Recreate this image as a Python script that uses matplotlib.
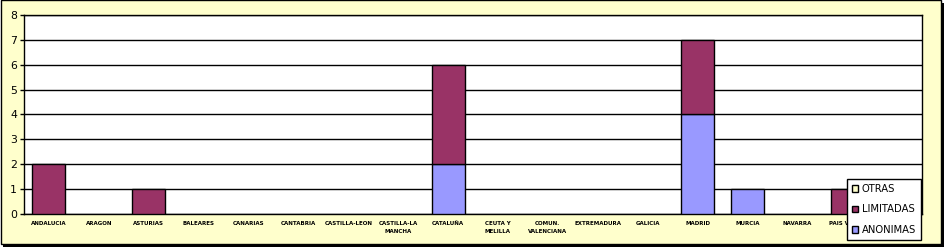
import numpy as np
import matplotlib
matplotlib.use("Agg")
import matplotlib.pyplot as plt
from matplotlib.patches import Rectangle

regions = ["ANDALUCIA", "ARAGON", "ASTURIAS", "BALEARES", "CANARIAS", "CANTABRIA",
           "CASTILLA-LEON", "CASTILLA-LA\nMANCHA", "CATALUÑA", "CEUTA Y\nMELILLA",
           "COMUN.\nVALENCIANA", "EXTREMADURA", "GALICIA", "MADRID", "MURCIA",
           "NAVARRA", "PAIS VASCO", "RIOJA"]
anonimas = [0, 0, 0, 0, 0, 0, 0, 0, 2, 0, 0, 0, 0, 4, 1, 0, 0, 0]
limitadas = [2, 0, 1, 0, 0, 0, 0, 0, 4, 0, 0, 0, 0, 3, 0, 0, 1, 0]
otras = [0] * len(regions)

bg = '#FFFFCC'
fig = plt.figure(figsize=(9.44, 2.47), dpi=100)
fig.patch.set_facecolor('white')

# frame with drop shadow
W, H = 944, 247
fig.patches.append(Rectangle((3 / W, 0), 941 / W, 244 / H, transform=fig.transFigure,
                             facecolor='black', edgecolor='none', zorder=-2))
fig.patches.append(Rectangle((0.5 / W, 3.5 / H), 940 / W, 243 / H, transform=fig.transFigure,
                             facecolor=bg, edgecolor='black', linewidth=1, zorder=-1))

ax = fig.add_axes([24 / W, 1 - 214 / H, (922 - 24) / W, (214 - 15) / H])
ax.set_facecolor('white')

x = np.arange(len(regions))
width = 0.66
an = np.array(anonimas)
li = np.array(limitadas)
ot = np.array(otras)
b1 = ax.bar(x, an, width, color='#9999FF', edgecolor='black', linewidth=1, zorder=3, label='ANONIMAS')
b2 = ax.bar(x, li, width, bottom=an, color='#993366', edgecolor='black', linewidth=1, zorder=3, label='LIMITADAS')
b3 = ax.bar(x, ot, width, bottom=an + li, color=bg, edgecolor='black', linewidth=1, zorder=3, label='OTRAS')
# hide zero-height bars
for bars, vals in ((b1, an), (b2, li), (b3, ot)):
    for rect, v in zip(bars, vals):
        if v == 0:
            rect.set_visible(False)

ax.set_xlim(-0.5, len(regions) - 0.5)
ax.set_ylim(0, 8)
ax.set_yticks(range(0, 9))
ax.grid(True, axis='y', color='black', linewidth=1, zorder=1)
ax.set_axisbelow(True)
for s in ax.spines.values():
    s.set_linewidth(1)
ax.tick_params(axis='y', labelsize=7.8, length=3, width=1, pad=2)
ax.set_xticks(x)
ax.set_xticklabels(regions, fontsize=4.0, fontweight='bold', linespacing=1.7)
ax.tick_params(axis='x', length=0, pad=5)

handles = [b3, b2, b1]
leg = fig.legend(handles, ['OTRAS', 'LIMITADAS', 'ANONIMAS'], loc='lower left',
                 bbox_to_anchor=(847 / W, 1 - 240 / H), fontsize=7.2,
                 frameon=True, fancybox=False, edgecolor='black', framealpha=1,
                 handlelength=0.6, handleheight=0.6, handletextpad=0.4,
                 labelspacing=1.05, borderpad=0.5, borderaxespad=0)
leg.get_frame().set_linewidth(1)
for h in leg.legend_handles:
    h.set_visible(True)
    h.set_edgecolor('black')

fig.savefig('out.png', dpi=100, facecolor=fig.get_facecolor())
